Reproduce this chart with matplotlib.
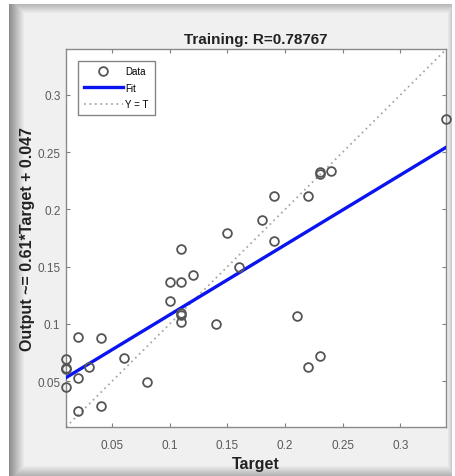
import numpy as np
import matplotlib
matplotlib.use('Agg')
import matplotlib.pyplot as plt

# regression data
targets = [0.01, 0.01, 0.01, 0.01,
           0.02, 0.02, 0.02,
           0.03,
           0.04, 0.04,
           0.06,
           0.08,
           0.10, 0.10,
           0.11, 0.11, 0.11, 0.11, 0.11,
           0.12,
           0.14,
           0.15,
           0.16,
           0.18,
           0.19, 0.19,
           0.21,
           0.22, 0.22,
           0.23, 0.23, 0.23,
           0.24,
           0.34]
outputs = [0.0695, 0.0616, 0.0610, 0.0448,
           0.0884, 0.0529, 0.0238,
           0.0622,
           0.0878, 0.0279,
           0.0700,
           0.0497,
           0.1198, 0.1364,
           0.1655, 0.1370, 0.1096, 0.1080, 0.1020,
           0.1428,
           0.1000,
           0.1790,
           0.1500,
           0.1908,
           0.2120, 0.1728,
           0.1065,
           0.2120, 0.0622,
           0.2324, 0.2310, 0.0724,
           0.2339,
           0.2790]
fit_slope = 0.61
fit_intercept = 0.047
r_value = '0.78767'
lim = [0.01, 0.34]
ticks = [0.05, 0.1, 0.15, 0.2, 0.25, 0.3]
tick_labels = ['0.05', '0.1', '0.15', '0.2', '0.25', '0.3']

plt.rcParams['font.family'] = ['Liberation Sans', 'DejaVu Sans']

W, H = 456, 477
fig = plt.figure(figsize=(W / 100, H / 100), dpi=100)
fig.patch.set_facecolor('white')

# grey window panel with soft shadow edges
bg = np.ones((H, W))
x0, x1, y0, y1 = 9, 452, 5, 477
bg[y0:y1, x0:x1] = 0.94
for i in range(16):
    v = 0.55 + 0.39 * i / 15
    bg[y0:y1, x0 + i] = np.minimum(bg[y0:y1, x0 + i], v)
for i in range(10):
    v = 0.72 + 0.22 * i / 9
    bg[y0 + i, x0:x1] = np.minimum(bg[y0 + i, x0:x1], v)
for i in range(11):
    v = 0.70 + 0.24 * i / 10
    bg[y1 - 1 - i, x0:x1] = np.minimum(bg[y1 - 1 - i, x0:x1], v)
for i in range(5):
    v = 0.80 + 0.14 * i / 4
    bg[y0:y1, x1 - 1 - i] = np.minimum(bg[y0:y1, x1 - 1 - i], v)
bax = fig.add_axes([0, 0, 1, 1], zorder=-1)
bax.imshow(bg, cmap='gray', vmin=0, vmax=1, aspect='auto', interpolation='bilinear')
bax.axis('off')

ax = fig.add_axes([66 / W, 1 - 428 / H, 380.5 / W, 378 / H])
ax.set_facecolor('white')

ax.plot(targets, outputs, 'o', markerfacecolor='none', markeredgecolor='#555555',
        markersize=6.3, markeredgewidth=1.3, label='Data', zorder=4, clip_on=False)
xs = np.array(lim)
ax.plot(xs, fit_slope * xs + fit_intercept, color='#0a14f0', lw=2.4, label='Fit', zorder=3)
ax.plot(xs, xs, linestyle=(0, (1, 2)), color='#a8a8a8', lw=1.3, label='Y = T', zorder=2)

ax.set_xlim(lim)
ax.set_ylim(lim)
ax.set_xticks(ticks)
ax.set_xticklabels(tick_labels)
ax.set_yticks(ticks)
ax.set_yticklabels(tick_labels)
ax.tick_params(direction='in', length=3, width=0.8, colors='#808080',
               labelcolor='#5a5a5a', labelsize=8.5, top=True, right=True)
ax.tick_params(axis='x', pad=9)
ax.tick_params(axis='y', pad=4)
for sp in ax.spines.values():
    sp.set_color('#8a8a8a')
    sp.set_linewidth(1.0)

ax.set_title('Training: R=' + r_value, fontsize=11, fontweight='bold', color='#222222', pad=4)
ax.set_xlabel('Target', fontsize=11.5, fontweight='bold', color='#222222', labelpad=3)
ax.set_ylabel('Output ~= %.2g*Target + %.2g' % (fit_slope, fit_intercept),
              fontsize=11.5, fontweight='bold', color='#222222', labelpad=2)

leg = ax.legend(loc='upper left', fontsize=7, frameon=True, fancybox=False,
                edgecolor='#666666', handlelength=4.1, handletextpad=0.2,
                borderpad=0.6, labelspacing=0.65, borderaxespad=1.2)
leg.get_frame().set_linewidth(1.0)

fig.savefig('out.png', dpi=100, facecolor=fig.get_facecolor())
